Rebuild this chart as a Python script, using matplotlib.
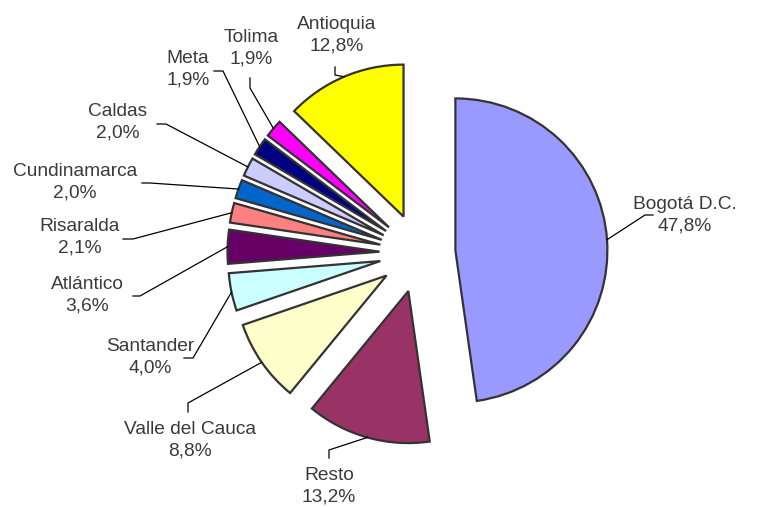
import numpy as np
import matplotlib.pyplot as plt

# Participación por departamento (%)
names = ['Bogotá D.C.', 'Resto', 'Valle del Cauca', 'Santander', 'Atlántico',
         'Risaralda', 'Cundinamarca', 'Caldas', 'Meta', 'Tolima', 'Antioquia']
shares = [47.8, 13.2, 8.8, 4.0, 3.6, 2.1, 2.0, 2.0, 1.9, 1.9, 12.8]
pct_labels = ['47,8%', '13,2%', '8,8%', '4,0%', '3,6%', '2,1%', '2,0%', '2,0%',
              '1,9%', '1,9%', '12,8%']
colors = ['#9999FF', '#993366', '#FFFFCC', '#CCFFFF', '#660066', '#FF8080',
          '#0066CC', '#CCCCFF', '#000080', '#FF00FF', '#FFFF00']
explode = [0.24, 0.26, 0.26, 0.26, 0.26, 0.26, 0.26, 0.26, 0.26, 0.26, 0.26]

# posiciones de etiquetas (pixeles de la imagen)
W, H = 769, 507
cx, cy, R = 419, 253, 152
label_pos = [(685, 215), (329, 486), (190, 440), (150, 357), (87, 295), (80, 237),
             (75, 182), (118, 122), (188, 69), (251, 48), (337, 35)]
elbows = [((653, 215), (645, 215)), ((329, 458), (329, 450)), ((188, 412), (188, 403)),
          ((184, 358), (193, 358)), ((133, 296), (140, 296)), ((123, 239), (133, 239)),
          ((142, 183), (150, 183)), ((157, 124), (166, 124)), ((214, 71), (223, 71)),
          ((250, 78), (250, 88)), ((335, 67), (335, 75))]


def px(p):
    return ((p[0] - cx) / R, (cy - p[1]) / R)


plt.rcParams['font.family'] = ['Liberation Sans', 'DejaVu Sans']
fig = plt.figure(figsize=(W / 100, H / 100), dpi=100)
ax = fig.add_axes([0, 0, 1, 1])

wedges, _ = ax.pie(shares, colors=colors, explode=explode, startangle=90,
                   counterclock=False, radius=1,
                   wedgeprops=dict(edgecolor='#333333', linewidth=1.6))

ax.set_xlim(-cx / R, (W - cx) / R)
ax.set_ylim((cy - H) / R, cy / R)
ax.axis('off')

txt = '#3a3a3a'
for w, name, pct, lp, (e1, e2) in zip(wedges, names, pct_labels, label_pos, elbows):
    mid = np.deg2rad((w.theta1 + w.theta2) / 2)
    ox, oy = w.center
    arc_pt = (ox + np.cos(mid), oy + np.sin(mid))
    a, b = px(e1), px(e2)
    ax.plot([a[0], b[0], arc_pt[0]], [a[1], b[1], arc_pt[1]], color='black', lw=0.9)
    x, y = px(lp)
    ax.text(x, y, name + '\n' + pct, ha='center', va='center', fontsize=13.8,
            color=txt, linespacing=1.35)

fig.savefig('out.png', dpi=100)
